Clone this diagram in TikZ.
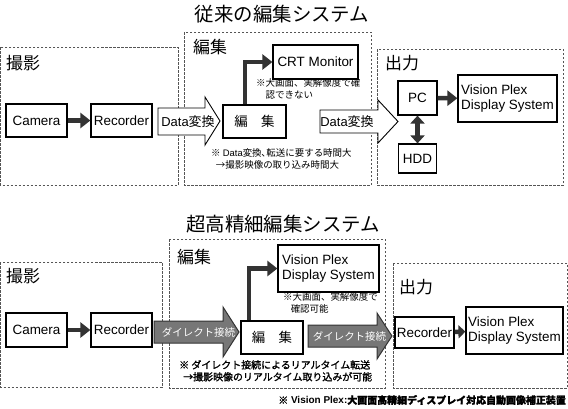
\documentclass[tikz,border=0pt]{standalone}
\usepackage{fontspec}
\setmainfont{Liberation Sans}
\newfontfamily\jp{Noto Sans CJK JP}
\newfontfamily\jpb[FakeBold=1.5]{Noto Sans CJK JP}
\usetikzlibrary{arrows.meta}
\definecolor{dk}{HTML}{333333}
\definecolor{gr}{HTML}{777777}
\definecolor{dash}{HTML}{555555}
\tikzset{
  box/.style={draw=black,line width=1.2bp,fill=white,inner sep=0pt,font=\fontsize{13.5}{16}\selectfont},
  area/.style={draw=dash,dashed,line width=0.7bp,dash pattern=on 2.5bp off 1.5bp},
  arealabel/.style={anchor=west,inner sep=0pt,font=\jp\fontsize{17}{20}\selectfont},
  darrow/.style={draw=dk,line width=4.5bp,-{Triangle[length=10bp,width=15bp]}},
  ddarrow/.style={draw=dk,line width=4.5bp,{Triangle[length=8bp,width=14bp]}-{Triangle[length=8bp,width=14bp]}},
  hollow/.style={draw=black,line width=0.9bp,fill=white},
  grayarrow/.style={draw=dk,line width=1bp,fill=gr},
  graytext/.style={inner sep=0pt,text=white,font=\jp\fontsize{10.5}{12}\selectfont},
  note/.style={anchor=north west,inner sep=0pt,align=left,font=\jp\fontsize{9.5}{12}\selectfont},
  title/.style={inner sep=0pt,font=\jp\fontsize{19.5}{22}\selectfont},
}
\begin{document}
\begin{tikzpicture}[x=1bp,y=-1bp]
\useasboundingbox[fill=white] (0,0) rectangle (568,408);
% ---------------- top: conventional ----------------
\node[title] (t1) at (282,14) {従来の編集システム};
\draw[area] (0.5,47) rectangle (178,185);
\node[arealabel] (l1) at (6,63) {撮影};
\draw[area] (184,32) rectangle (371,185);
\node[arealabel] (l2) at (193,47) {編集};
\draw[area] (377,49) rectangle (563,185);
\node[arealabel] (l3) at (385,63) {出力};

\node[box,minimum width=61bp,minimum height=33bp] (cam1) at (36.5,120.5) {Camera};
\node[box,minimum width=61bp,minimum height=33bp] (rec1) at (121.5,120.5) {Recorder};
\draw[darrow] (cam1) -- (rec1);

\draw[hollow] (158,108) -- (205,108) -- (205,97) -- (220,121) -- (205,145) -- (205,135) -- (158,135) -- cycle;
\node[inner sep=0pt,font=\fontsize{13}{15}\selectfont] (dc1) at (188,121.5) {Data{\jp 変換}};

\node[box,minimum width=85bp,minimum height=34bp] (crt) at (315.5,62) {CRT Monitor};
\node[box,minimum width=63bp,minimum height=33bp,font=\jp\fontsize{13.5}{16}\selectfont] (hen1) at (254.5,121.5) {編\hspace{1em}集};
\draw[darrow] ([xshift=-9.5bp]hen1.north) |- (crt.west);
\node[note] (n1) at (256,78.5) {※大画面、実解像度で確\\\hspace{1em}認できない};
\node[note] (n2) at (211,148) {※ {\rmfamily Data}変換､転送に要する時間大\\\hspace{0.5em}→撮影映像の取り込み時間大};

\draw[hollow] (320,110) -- (378,110) -- (378,100) -- (398,121.5) -- (378,143) -- (378,133) -- (320,133) -- cycle;
\node[inner sep=0pt,font=\fontsize{13}{15}\selectfont] (dc2) at (347,122) {Data{\jp 変換}};

\node[box,minimum width=39bp,minimum height=34bp] (pc) at (417.5,98) {PC};
\node[box,minimum width=38bp,minimum height=29bp] (hdd) at (417.5,158.5) {HDD};
\node[box,minimum width=99bp,minimum height=47bp,align=left] (vp1) at (507.5,98.5) {Vision Plex\\Display System};
\draw[ddarrow] (pc) -- (hdd);
\draw[darrow] (pc) -- (vp1);

% ---------------- bottom: super high definition ----------------
\node[title] (t2) at (283,224) {超高精細編集システム};
\draw[area] (0.5,262) rectangle (162,387);
\node[arealabel] (l4) at (6,276) {撮影};
\draw[area] (169,239) rectangle (385,388);
\node[arealabel] (l5) at (177,257) {編集};
\draw[area] (393,263) rectangle (567,388);
\node[arealabel] (l6) at (399,287) {出力};

\node[box,minimum width=61bp,minimum height=34bp] (cam2) at (36.5,330) {Camera};
\node[box,minimum width=61bp,minimum height=34bp] (rec2) at (121.5,330) {Recorder};
\draw[darrow] (cam2) -- (rec2);

\draw[grayarrow] (154,321) -- (223,321) -- (223,307) -- (239,332) -- (223,357) -- (223,343) -- (154,343) -- cycle;
\node[graytext] (dr1) at (198.5,332) {ダイレクト接続};

\node[box,minimum width=101bp,minimum height=47bp,align=left] (vp2) at (328.5,268.5) {Vision Plex\\Display System};
\node[box,minimum width=62bp,minimum height=33bp,font=\jp\fontsize{13.5}{16}\selectfont] (hen2) at (272,337.5) {編\hspace{1em}集};
\draw[darrow] ([xshift=-23bp]hen2.north) |- (vp2.west);
\node[note] (n3) at (283,292.5) {※大画面、実解像度で\\\hspace{0.8em}確認可能};

\draw[grayarrow] (308,325) -- (377,325) -- (377,313) -- (392,336) -- (377,359) -- (377,347) -- (308,347) -- cycle;
\node[graytext] (dr2) at (349.5,336) {ダイレクト接続};

\node[box,minimum width=59bp,minimum height=31bp] (rec3) at (424.5,332.5) {Recorder};
\node[box,minimum width=97bp,minimum height=47bp,align=left] (vp3) at (514.5,330.5) {Vision Plex\\Display System};
\draw[draw=dk,line width=4.5bp,-{Triangle[length=7bp,width=13bp]}] (rec3) -- (vp3);

\node[note,font=\jpb\fontsize{10}{12}\selectfont] (n4) at (179,360) {※ ダイレクト接続によるリアルタイム転送\\\hspace{0.4em}→撮影映像のリアルタイム取り込みが可能};

\node[anchor=east,inner sep=0pt,font=\fontsize{10}{12}\selectfont\bfseries] (foot) at (566,400) {{\jpb ※} Vision Plex:{\jpb 大画面高精細ディスプレイ対応自動画像補正装置}};
\end{tikzpicture}
\end{document}
